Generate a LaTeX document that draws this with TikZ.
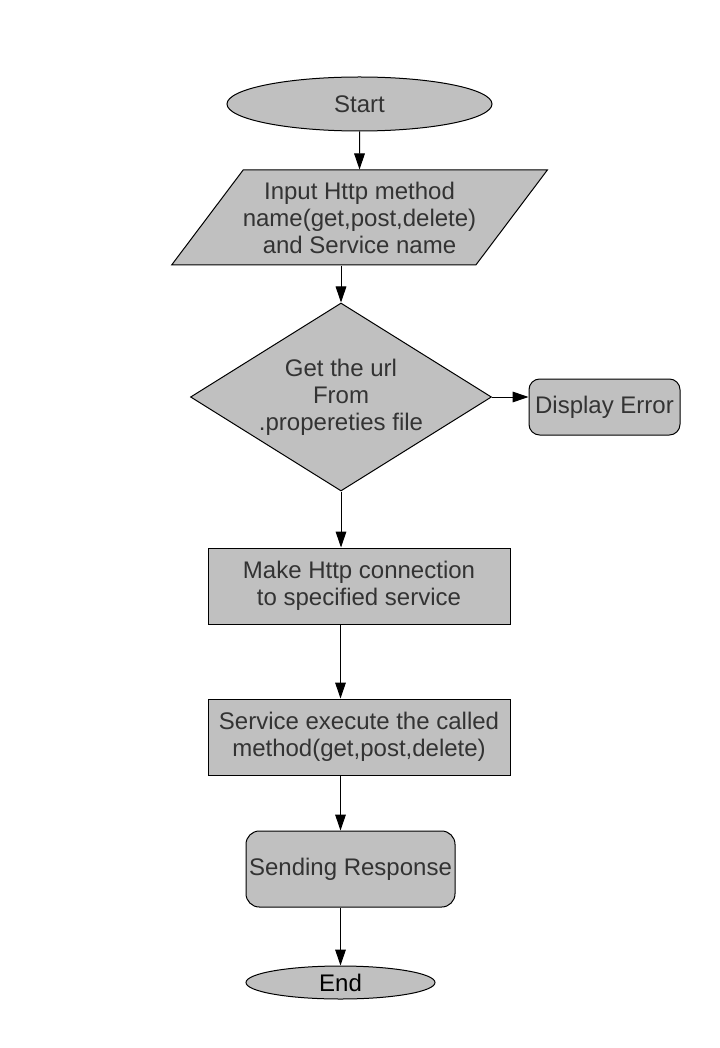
\documentclass[tikz,border=0pt]{standalone}
\usepackage{fontspec}
\setmainfont{Liberation Sans}
\usetikzlibrary{shapes.geometric,arrows.meta}
\definecolor{shapegray}{HTML}{C0C0C0}
\definecolor{labelgray}{HTML}{333333}
\begin{document}
\begin{tikzpicture}[
    x=0.75pt, y=-0.75pt,
    every node/.style={font=\fontsize{18}{20.3}\selectfont, text=labelgray, line width=0.75pt},
    terminal/.style={draw, ellipse, fill=shapegray, inner sep=0pt},
    iobox/.style={draw, trapezium, trapezium left angle=45, trapezium right angle=135, trapezium stretches=true, fill=shapegray, minimum width=282.75pt, minimum height=71.25pt, inner sep=0pt, align=center},
    decision/.style={draw, diamond, aspect=1.6, fill=shapegray, minimum width=225.75pt, minimum height=141pt, inner sep=0pt, align=center},
    process/.style={draw, rectangle, fill=shapegray, minimum width=226.5pt, minimum height=57pt, inner sep=0pt, align=center},
    roundbox/.style={draw, rectangle, rounded corners=8pt, fill=shapegray, inner sep=0pt, align=center},
    flow/.style={-{Triangle[length=12pt, width=8pt]}, line width=0.75pt}
]
    \useasboundingbox (0,0) rectangle (719,1048);

    % Start
    \node[terminal, minimum width=198.75pt, minimum height=40.5pt] (start) at (359.5,104) {Start};

    % Input
    \node[iobox] (input) at (359.5,217.5) {Input Http method\\name(get,post,delete)\\ and Service name};

    % Url lookup
    \node[decision] (urlcheck) at (341,397) {Get the url\\From\\.propereties file};
    \node[roundbox, minimum width=113.25pt, minimum height=42pt] (error) at (604.5,407) {Display Error};

    % Connection and execution
    \node[process] (connect) at (359,586) {Make Http connection\\to specified service};
    \node[process] (execute) at (359,737) {Service execute the called\\method(get,post,delete)};

    % Response and end
    \node[roundbox, rounded corners=10pt, minimum width=156.75pt, minimum height=57pt] (respond) at (350.5,869) {Sending Response};
    \node[terminal, text=black, minimum width=141.75pt, minimum height=24.75pt] (stop) at (340.5,982.5) {End};

    % Connections
    \draw[flow] (start) -- (input);
    \draw[flow] (input.south -| urlcheck.north) -- (urlcheck.north);
    \draw[flow] (urlcheck.east) -- (urlcheck.east -| error.west);
    \draw[flow] (urlcheck.south) -- (urlcheck.south |- connect.north);
    \draw[flow] (connect.south -| stop.north) -- (execute.north -| stop.north);
    \draw[flow] (execute.south -| stop.north) -- (respond.north -| stop.north);
    \draw[flow] (respond.south -| stop.north) -- (stop.north);

\end{tikzpicture}
\end{document}
